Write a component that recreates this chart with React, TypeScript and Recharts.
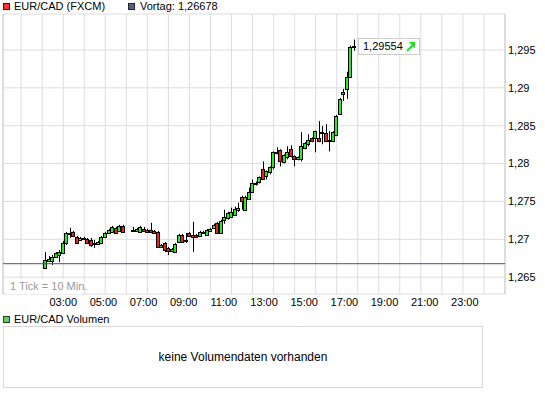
import React from 'react';
import { ComposedChart, Bar, XAxis, YAxis, CartesianGrid, ReferenceLine, ReferenceDot } from 'recharts';

const FONT = '"Liberation Sans", Arial, Helvetica, sans-serif';

const times = [
  '02:10','02:20','02:30','02:40','02:50','03:00','03:10','03:20','03:30','03:40','03:50',
  '04:00','04:10','04:20','04:30','04:40','04:50','05:00','05:10','05:20','05:30','05:40','05:50',
  '06:20','06:30','06:40','06:50','07:00','07:10','07:20','07:30','07:40','07:50',
  '08:00','08:10','08:20','08:30','08:40','08:50','09:00','09:10','09:20','09:30','09:40','09:50',
  '10:00','10:10','10:20','10:30','10:40','10:50','11:00','11:10','11:20','11:30','11:40','11:50',
  '12:00','12:10','12:20','12:30','12:40','12:50','13:00','13:10','13:20','13:30','13:40','13:50',
  '14:00','14:10','14:20','14:30','14:40','14:50','15:00','15:10','15:20','15:30','15:40','15:50',
  '16:00','16:10','16:20','16:30','16:40','16:50',
];
const opens = [
  1.26620,1.26713,1.26713,1.26766,1.26793,1.26819,1.26952,1.27072,1.27098,1.27032,1.26992,
  1.27005,1.27005,1.26992,1.26939,1.26939,1.26952,1.27032,1.27085,1.27098,1.27152,1.27112,1.27178,
  1.27125,1.27112,1.27098,1.27138,1.27125,1.27125,1.27112,1.27098,1.26899,1.26952,
  1.26886,1.26846,1.26832,1.26965,1.27059,1.26979,1.27085,1.27059,1.27059,1.27045,1.27085,1.27059,
  1.27112,1.27152,1.27218,1.27085,1.27258,1.27285,1.27298,1.27324,1.27391,1.27564,1.27391,1.27537,
  1.27630,1.27737,1.27763,1.27923,1.27830,1.27883,1.27949,1.28149,1.28176,1.28016,1.28082,1.28189,
  1.28096,1.28056,1.28056,1.28202,1.28255,1.28335,1.28335,1.28335,1.28402,1.28402,1.28295,1.28295,
  1.28375,1.28654,1.28920,1.28987,1.29146,1.29539,
];
const highs = [
  1.26832,1.26779,1.26793,1.26832,1.26859,1.26979,1.27098,1.27152,1.27112,1.27045,1.27032,
  1.27032,1.27019,1.27019,1.26992,1.26979,1.27045,1.27098,1.27138,1.27178,1.27165,1.27191,1.27191,
  1.27165,1.27152,1.27178,1.27165,1.27138,1.27218,1.27125,1.27112,1.26939,1.26965,
  1.26899,1.26886,1.26952,1.27072,1.27072,1.27085,1.27098,1.27231,1.27072,1.27112,1.27112,1.27138,
  1.27152,1.27205,1.27231,1.27258,1.27391,1.27364,1.27418,1.27431,1.27484,1.27577,1.27577,1.27684,
  1.27790,1.27763,1.27830,1.28029,1.27910,1.27963,1.28162,1.28215,1.28189,1.28122,1.28229,1.28242,
  1.28109,1.28096,1.28415,1.28282,1.28388,1.28348,1.28435,1.28561,1.28495,1.28521,1.28428,1.28428,
  1.28641,1.28867,1.28987,1.29213,1.29558,1.29638,
];
const lows = [
  1.26606,1.26699,1.26660,1.26753,1.26699,1.26806,1.26926,1.27019,1.27032,1.26939,1.26979,
  1.26992,1.26939,1.26899,1.26886,1.26926,1.26939,1.27019,1.27072,1.27085,1.27072,1.27098,1.27085,
  1.27098,1.27098,1.27085,1.27098,1.27085,1.27085,1.27072,1.26886,1.26886,1.26832,
  1.26793,1.26832,1.26819,1.26952,1.26952,1.26952,1.27032,1.26832,1.27019,1.27032,1.27072,1.27045,
  1.27098,1.27138,1.27072,1.27072,1.27205,1.27258,1.27285,1.27311,1.27364,1.27391,1.27378,1.27524,
  1.27617,1.27710,1.27737,1.27790,1.27790,1.27857,1.27923,1.28122,1.27963,1.28003,1.28056,1.28082,
  1.27963,1.28043,1.28029,1.28189,1.28229,1.28282,1.28149,1.28282,1.28255,1.28282,1.28162,1.28282,
  1.28362,1.28641,1.28827,1.28854,1.29133,1.29492,
];
const closes = [
  1.26726,1.26739,1.26766,1.26819,1.26832,1.26952,1.27085,1.27085,1.27045,1.26952,1.27019,
  1.27019,1.26952,1.26926,1.26952,1.26965,1.27032,1.27085,1.27125,1.27165,1.27085,1.27178,1.27098,
  1.27112,1.27138,1.27165,1.27112,1.27098,1.27098,1.27085,1.26899,1.26926,1.26859,
  1.26846,1.26872,1.26939,1.27059,1.26965,1.26992,1.27045,1.27032,1.27032,1.27098,1.27098,1.27125,
  1.27138,1.27191,1.27085,1.27245,1.27298,1.27351,1.27364,1.27404,1.27418,1.27511,1.27564,1.27630,
  1.27750,1.27750,1.27817,1.27803,1.27896,1.27949,1.28149,1.28136,1.28029,1.28109,1.28149,1.28096,
  1.28056,1.28082,1.28229,1.28269,1.28309,1.28295,1.28428,1.28295,1.28415,1.28295,1.28309,1.28415,
  1.28628,1.28854,1.28947,1.29146,1.29545,1.29554,
];

const previousClose = 1.26678;
const lastPrice = 1.29554;
const gridHours = [1,2,3,4,5,6,7,8,9,10,11,12,13,14,15,16,17,18,19,20,21,22,23];
const labelHours = [3,5,7,9,11,13,15,17,19,21,23];
const priceTicks = [1.265, 1.27, 1.275, 1.28, 1.285, 1.29, 1.295];

const toHours = (s: string) => { const [h, m] = s.split(':').map(Number); return h + m / 60; };
const data = times.map((t, i) => ({
  t: toHours(t), label: t,
  open: opens[i], high: highs[i], low: lows[i], close: closes[i],
  range: [lows[i], highs[i]],
}));

const fmtPrice = (v: number) => v.toFixed(3).replace(/0+$/, '').replace('.', ',');
const fmtHour = (h: number) => `${h < 10 ? '0' : ''}${h}:00`;

const Candle = (props: any) => {
  const { x, y, width, height, payload } = props;
  if (!payload) return null;
  const { open, close, high, low } = payload;
  const yTop = Math.min(y, y + height);
  const h = Math.abs(height);
  const k = h / (high - low);
  const py = (v: number) => yTop + (high - v) * k;
  const cx = Math.round(x + width / 2);
  const top = Math.round(py(Math.max(open, close)));
  const bot = Math.round(py(Math.min(open, close)));
  const up = close >= open;
  return (
    <g>
      <line x1={cx + 0.5} x2={cx + 0.5} y1={py(high)} y2={py(low)} stroke="#000" strokeWidth={1} />
      <rect x={cx - 1.5} y={top + 0.5} width={3} height={Math.max(1, bot - top)}
        fill={up ? '#22ee22' : '#ee2222'} stroke="#000" strokeWidth={1} />
    </g>
  );
};

const PriceTag = (props: any) => {
  const { cx, cy } = props;
  const left = Math.round(cx) + 4;
  const top = Math.round(cy) - 8;
  return (
    <g>
      <rect x={left + 0.5} y={top + 0.5} width={61} height={16} fill="#fff" stroke="#cccccc" />
      <text x={left + 5} y={top + 12} fontSize={11} fontFamily={FONT} fill="#000">
        {lastPrice.toFixed(5).replace('.', ',')}
      </text>
      <path d={`M${left + 49} ${top + 13} L${left + 55} ${top + 7}`} stroke="#22dd22" strokeWidth={2} />
      <path d={`M${left + 51} ${top + 4} L${left + 57} ${top + 4} L${left + 57} ${top + 10} Z`} fill="#22dd22" />
    </g>
  );
};

const sq = (bg: string, border: string): React.CSSProperties => ({
  position: 'absolute', width: 7, height: 7, boxSizing: 'border-box',
  background: bg, border: `1px solid ${border}`,
});

export default function App() {
  return (
    <div style={{ position: 'absolute', left: 0, top: 0, width: 545, height: 395, background: '#fff',
      fontFamily: FONT, fontSize: 11, color: '#000', overflow: 'hidden' }}>
      <div style={{ position: 'absolute', left: 0, top: 0 }}>
        <ComposedChart width={545} height={312} data={data} margin={{ top: 14, right: 0, left: 3, bottom: 0 }}>
          <CartesianGrid stroke="#dcdcdc" xAxisId="grid" />
          <XAxis xAxisId="grid" dataKey="t" type="number" domain={[0.14, 24]} ticks={gridHours} interval={0}
            tickFormatter={() => ''} tickLine={false} axisLine={false} tickSize={0} height={0}
            allowDataOverflow tick={{ fontSize: 1 }} />
          <XAxis xAxisId="lbl" dataKey="t" type="number" domain={[0, 25]} ticks={labelHours} interval={0}
            tickFormatter={fmtHour} tickLine={false} axisLine={false} tickSize={0} tickMargin={4}
            height={18} allowDataOverflow tick={{ fontSize: 11, fill: '#000', fontFamily: FONT }} />
          <YAxis orientation="right" type="number" domain={[1.26278, 1.29975]} ticks={priceTicks}
            tickFormatter={fmtPrice} width={40} tickLine={false} axisLine={false} tickSize={0}
            tickMargin={3} allowDataOverflow tick={{ fontSize: 11, fill: '#000', fontFamily: FONT }} />
          <ReferenceLine xAxisId="grid" x={0.14} stroke="#cccccc" />
          <ReferenceLine xAxisId="grid" x={24} stroke="#cccccc" />
          <ReferenceLine xAxisId="grid" y={previousClose} stroke="#4a5474" strokeWidth={1} />
          <Bar xAxisId="grid" dataKey="range" barSize={3} isAnimationActive={false}
            shape={(p: any) => <Candle {...p} />} />
          <ReferenceDot xAxisId="grid" x={data[data.length - 1].t} y={lastPrice} r={0}
            shape={(p: any) => <PriceTag {...p} />} />
        </ComposedChart>
      </div>

      <div style={{ ...sq('#ff3333', '#660000'), left: 3, top: 3 }} />
      <div style={{ position: 'absolute', left: 14, top: 0, lineHeight: '13px', whiteSpace: 'nowrap' }}>EUR/CAD (FXCM)</div>
      <div style={{ ...sq('#5a6078', '#222233'), left: 128, top: 3 }} />
      <div style={{ position: 'absolute', left: 140, top: 0, lineHeight: '13px', whiteSpace: 'nowrap' }}>Vortag: 1,26678</div>

      <div style={{ position: 'absolute', left: 6, top: 279, width: 76, height: 15, background: '#fff',
        color: '#999', lineHeight: '15px', paddingLeft: 4, boxSizing: 'border-box', whiteSpace: 'nowrap' }}>
        1 Tick = 10 Min.
      </div>

      <div style={{ ...sq('#66cc66', '#224422'), left: 3, top: 316 }} />
      <div style={{ position: 'absolute', left: 14, top: 313, lineHeight: '13px', whiteSpace: 'nowrap' }}>EUR/CAD Volumen</div>

      <div style={{ position: 'absolute', left: 3, top: 326, width: 480, height: 62, boxSizing: 'border-box',
        border: '1px solid #d8d8d8', display: 'flex', alignItems: 'center', justifyContent: 'center',
        fontSize: 12 }}>
        keine Volumendaten vorhanden
      </div>
    </div>
  );
}
